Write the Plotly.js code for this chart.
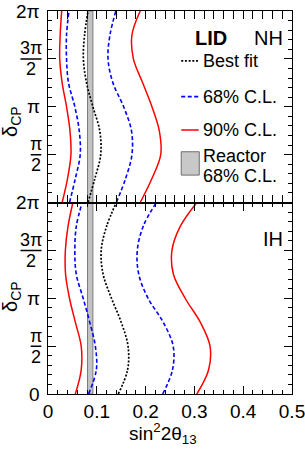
<!DOCTYPE html>
<html>
<head>
<meta charset="utf-8">
<script src="https://cdn.plot.ly/plotly-3.0.1.min.js"></script>
<style>
html,body{margin:0;padding:0;background:#fff;}
#chart{width:305px;height:451px;}
</style>
</head>
<body>
<div id="chart"></div>
<script>
// ---------------- data ----------------
// delta_CP in units of pi
const deltaOverPi = [0, 0.25, 0.5, 0.75, 1.0, 1.25, 1.5, 1.75, 2.0];

// Normal hierarchy (top panel), sin^2(2 theta13)
const nhRed90Low   = [0.029, 0.040, 0.047, 0.045, 0.038, 0.029, 0.024, 0.025, 0.028];
const nhBlue68Low  = [0.044, 0.056, 0.066, 0.064, 0.055, 0.042, 0.038, 0.038, 0.043];
const nhBestFit    = [0.082, 0.096, 0.108, 0.106, 0.092, 0.079, 0.0725, 0.075, 0.082];
const nhBlue68High = [0.140, 0.159, 0.172, 0.171, 0.155, 0.133, 0.123, 0.127, 0.139];
const nhRed90High  = [0.189, 0.213, 0.231, 0.228, 0.213, 0.194, 0.175, 0.172, 0.189];

// Inverted hierarchy (bottom panel)
const ihRed90Low   = [0.056, 0.068, 0.068, 0.056, 0.044, 0.036, 0.0356, 0.041, 0.051];
const ihBlue68Low  = [0.083, 0.099, 0.097, 0.0855, 0.072, 0.058, 0.055, 0.058, 0.070];
const ihBestFit    = [0.144, 0.163, 0.164, 0.150, 0.130, 0.113, 0.109, 0.120, 0.140];
const ihBlue68High = [0.235, 0.255, 0.2565, 0.236, 0.205, 0.186, 0.183, 0.195, 0.222];
const ihRed90High  = [0.305, 0.329, 0.332, 0.312, 0.281, 0.257, 0.254, 0.271, 0.305];

// Reactor 68% C.L. band
const reactorLow = 0.081;
const reactorHigh = 0.092;

// tick labels
const xTickVals = [0, 0.1, 0.2, 0.3, 0.4, 0.5];
const xTickText = ['0', '0.1', '0.2', '0.3', '0.4', '0.5'];
const yTickVals = [0, 0.5, 1, 1.5, 2];
const yTickNum  = ['0', 'π', 'π', '3π', '2π'];
const yTickDen  = ['', '2', '', '2', ''];

const legendLabels = ['Best fit', '68% C.L.', '90% C.L.'];
const reactorLabel = ['Reactor', '68% C.L.'];

// ---------------- styling ----------------
const FONT = 'Liberation Sans, Arial, Helvetica, sans-serif';
const RED = '#ff0000', BLUE = '#0000ff', BLACK = '#000000';
const styles = {
  red:   {color: RED, width: 1.5, dash: 'solid'},
  blue:  {color: BLUE, width: 1.6, dash: '4px,2.5px'},
  black: {color: BLACK, width: 1.7, dash: '2px,1.7px'}
};

// plot area geometry (px) for paper conversions
const L = 48, R = 13, T = 11, B = 57, W = 305, H = 451;
const PW = W - L - R, PH = H - T - B;
const pxX = px => (px - L) / PW;
const pxY = py => (H - B - py) / PH;

function curve(x, style, yaxis) {
  return {
    type: 'scatter', mode: 'lines',
    x: x, y: deltaOverPi,
    yaxis: yaxis, xaxis: 'x',
    line: Object.assign({shape: 'spline', smoothing: 1}, style),
    hoverinfo: 'skip', showlegend: false
  };
}

const traces = [
  curve(nhRed90Low, styles.red, 'y2'),
  curve(nhRed90High, styles.red, 'y2'),
  curve(nhBlue68Low, styles.blue, 'y2'),
  curve(nhBlue68High, styles.blue, 'y2'),
  curve(nhBestFit, styles.black, 'y2'),
  curve(ihRed90Low, styles.red, 'y'),
  curve(ihRed90High, styles.red, 'y'),
  curve(ihBlue68Low, styles.blue, 'y'),
  curve(ihBlue68High, styles.blue, 'y'),
  curve(ihBestFit, styles.black, 'y')
];

const tickFont = {family: FONT, size: 19, color: '#000'};
const fracFont = {family: FONT, size: 18, color: '#000'};

function yAxis(domain) {
  return {
    domain: domain, range: [0, 2], anchor: 'x',
    tickvals: yTickVals, showticklabels: false,
    ticks: 'inside', ticklen: 8, tickwidth: 1, tickcolor: '#000',
    minor: {dtick: 0.1, ticks: 'inside', ticklen: 4, tickwidth: 1, tickcolor: '#000'},
    showline: true, linecolor: '#000', linewidth: 1, mirror: 'allticks',
    showgrid: false, zeroline: false, fixedrange: true
  };
}

const annotations = [];
const shapes = [];

// y tick labels (with stacked fractions)
function addYLabels(yref, skipZero) {
  yTickVals.forEach((v, i) => {
    if (skipZero && v === 0) return;
    const num = yTickNum[i], den = yTickDen[i];
    if (!den) {
      annotations.push({xref: 'paper', yref: yref, x: pxX(41), y: v,
        xanchor: 'right', yanchor: 'middle', text: num, showarrow: false,
        borderpad: 0, font: tickFont});
    } else {
      const cx = num.length > 1 ? 31 : 36;
      const half = num.length > 1 ? 10.5 : 5.3;
      annotations.push({xref: 'paper', yref: yref, x: pxX(cx), y: v,
        xanchor: 'center', yanchor: 'middle', yshift: 10.6, text: num,
        showarrow: false, borderpad: 0, font: fracFont});
      annotations.push({xref: 'paper', yref: yref, x: pxX(cx), y: v,
        xanchor: 'center', yanchor: 'middle', yshift: -10.4, text: den,
        showarrow: false, borderpad: 0, font: fracFont});
      shapes.push({type: 'line', xref: 'paper', yref: yref,
        x0: pxX(cx - half), x1: pxX(cx + half), y0: v, y1: v,
        line: {color: '#000', width: 1.5}});
    }
  });
}
addYLabels('y', false);
addYLabels('y2', true);

// y titles
[['y2', pxY(122)], ['y', pxY(297)]].forEach(([ax, yy]) => {
  annotations.push({xref: 'paper', yref: 'paper', x: pxX(11), y: yy,
    xanchor: 'center', yanchor: 'middle', textangle: -90,
    text: 'δ<sub>CP</sub>', showarrow: false, borderpad: 0,
    font: {family: FONT, size: 20, color: '#000'}});
});

// x title
annotations.push({xref: 'paper', yref: 'paper', x: pxX(163), y: pxY(433),
  xanchor: 'center', yanchor: 'middle',
  text: 'sin<sup>2</sup>2θ<sub>13</sub>', showarrow: false, borderpad: 0,
  font: {family: FONT, size: 19, color: '#000'}});

// reactor bands (both panels)
shapes.push({type: 'rect', xref: 'x', yref: 'paper', x0: reactorLow, x1: reactorHigh,
  y0: 0, y1: 1, fillcolor: '#c4c4c4', line: {color: '#7a7a7a', width: 1}, layer: 'below'});

// legend (top panel, data coords of x / y2)
const legFont = {family: FONT, size: 18, color: '#000'};
const legX0 = 0.273, legX1 = 0.309, legTextX = 0.316;
const legRows = [
  {y: 1.48, style: styles.black, label: legendLabels[0]},
  {y: 1.106, style: styles.blue, label: legendLabels[1]},
  {y: 0.757, style: styles.red, label: legendLabels[2]}
];
legRows.forEach(r => {
  shapes.push({type: 'line', xref: 'x', yref: 'y2', x0: legX0, x1: legX1, y0: r.y, y1: r.y,
    line: {color: r.style.color, width: r.style.width, dash: r.style.dash}});
  annotations.push({xref: 'x', yref: 'y2', x: legTextX, y: r.y, xanchor: 'left',
    yanchor: 'middle', text: r.label, showarrow: false, borderpad: 0, font: legFont});
});
shapes.push({type: 'rect', xref: 'x', yref: 'y2', x0: legX0, x1: 0.310, y0: 0.286, y1: 0.530,
  fillcolor: '#c8c8c8', line: {color: '#6e6e6e', width: 1}});
annotations.push({xref: 'x', yref: 'y2', x: legTextX, y: 0.49, xanchor: 'left',
  yanchor: 'middle', text: reactorLabel[0], showarrow: false, borderpad: 0, font: legFont});
annotations.push({xref: 'x', yref: 'y2', x: legTextX, y: 0.272, xanchor: 'left',
  yanchor: 'middle', text: reactorLabel[1], showarrow: false, borderpad: 0, font: legFont});

// panel labels
const labFont = {family: FONT, size: 20, color: '#000'};
annotations.push({xref: 'x', yref: 'y2', x: 0.300, y: 1.717, xanchor: 'left', yanchor: 'middle',
  text: '<b>LID</b>', showarrow: false, borderpad: 0, font: labFont});
annotations.push({xref: 'x', yref: 'y2', x: 0.4827, y: 1.717, xanchor: 'right', yanchor: 'middle',
  text: 'NH', showarrow: false, borderpad: 0, font: labFont});
annotations.push({xref: 'x', yref: 'y', x: 0.4827, y: 1.624, xanchor: 'right', yanchor: 'middle',
  text: 'IH', showarrow: false, borderpad: 0, font: labFont});

const layout = {
  width: W, height: H,
  margin: {l: L, r: R, t: T, b: B, pad: 0},
  paper_bgcolor: '#fff', plot_bgcolor: '#fff',
  showlegend: false,
  font: {family: FONT, color: '#000'},
  xaxis: {
    range: [0, 0.5], domain: [0, 1], anchor: 'y',
    tickvals: xTickVals, ticktext: xTickText, tickfont: tickFont,
    ticklabeloverflow: 'allow',
    ticks: 'inside', ticklen: 8, tickwidth: 1, tickcolor: '#000',
    minor: {dtick: 0.02, ticks: 'inside', ticklen: 4, tickwidth: 1, tickcolor: '#000'},
    showline: true, linecolor: '#000', linewidth: 1, mirror: 'allticks',
    showgrid: false, zeroline: false, fixedrange: true, automargin: false
  },
  yaxis: yAxis([0, 0.5]),
  yaxis2: yAxis([0.5, 1]),
  shapes: shapes,
  annotations: annotations
};

Plotly.newPlot('chart', traces, layout, {displayModeBar: false, staticPlot: true});
</script>
</body>
</html>
